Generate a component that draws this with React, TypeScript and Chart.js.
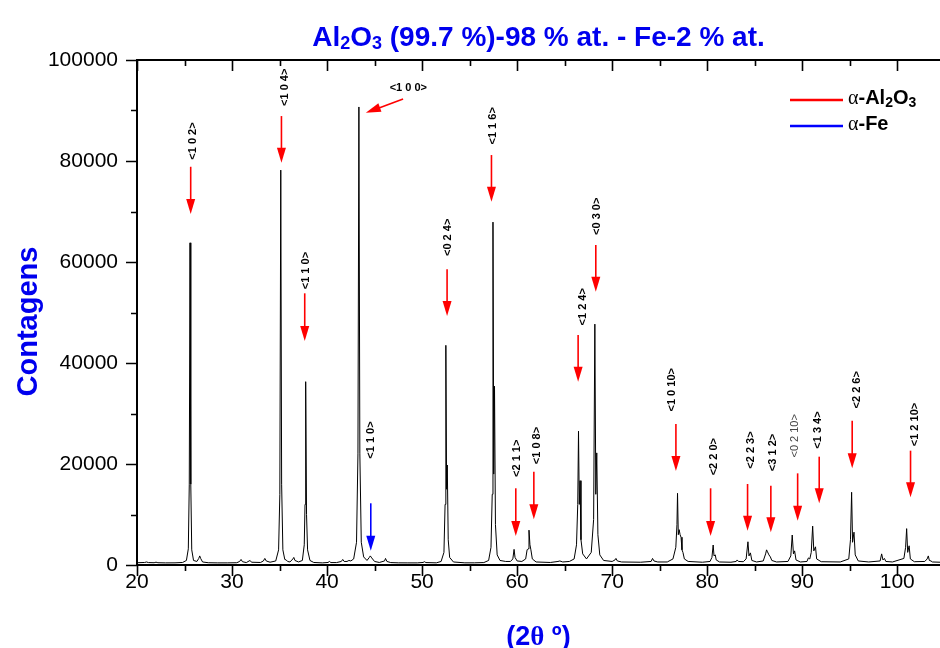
import React, { useEffect, useRef } from 'react';
import { Chart, registerables } from 'chart.js';

Chart.register(...registerables);

const SANS = '"Liberation Sans", Arial, sans-serif';
const SERIF = '"Liberation Serif", "Times New Roman", serif';

// ---- XRD scan: [2θ (deg), counts] ----
const scan20to40: [number, number][] = [
  [20.0, 450], [20.8, 500], [21.0, 600], [21.2, 480], [21.8, 450], [22.0, 560], [22.2, 450],
  [23.0, 420], [24.0, 430], [24.8, 500], [25.2, 900], [25.4, 3200], [25.5, 16000], [25.58, 63800],
  [25.66, 16000], [25.76, 3000], [25.95, 900], [26.3, 700], [26.5, 1300], [26.6, 1800], [26.7, 1300],
  [26.9, 600], [27.5, 450], [28.5, 420], [29.5, 420], [30.5, 450], [30.8, 700], [30.95, 1100],
  [31.1, 650], [31.5, 480], [31.8, 800], [31.9, 900], [32.05, 550], [33.0, 500], [33.3, 800],
  [33.45, 1300], [33.6, 800], [34.0, 550], [34.6, 800], [34.9, 3000], [35.03, 14000], [35.13, 78200],
  [35.22, 16000], [35.35, 3000], [35.55, 1100], [35.7, 1000], [35.85, 700], [36.1, 600], [36.4, 1200],
  [36.5, 1500], [36.62, 900], [37.0, 600], [37.4, 900], [37.6, 4000], [37.68, 12000], [37.75, 36300],
  [37.84, 10000], [37.95, 3000], [38.2, 900], [38.6, 500], [39.5, 420],
];
const scan40to60: [number, number][] = [
  [40.1, 500], [40.25, 700], [40.4, 480], [41.0, 480], [41.5, 700], [41.65, 1100], [41.8, 700],
  [42.1, 700], [42.3, 900], [42.5, 800], [42.8, 1200], [43.1, 4500], [43.25, 22000], [43.35, 90700],
  [43.45, 22000], [43.6, 4500], [43.85, 1600], [44.2, 900], [44.45, 1500], [44.55, 1800], [44.7, 1400],
  [45.0, 700], [45.5, 500], [46.05, 800], [46.15, 1300], [46.3, 700], [46.7, 480], [47.5, 430],
  [48.5, 420], [49.5, 420], [50.1, 500], [50.25, 650], [50.4, 480], [51.5, 430], [52.0, 700],
  [52.3, 2500], [52.42, 12000], [52.5, 43500], [52.58, 15000], [52.65, 19800], [52.75, 5000],
  [52.9, 1500], [53.3, 600], [54.5, 430], [55.5, 430], [56.5, 480], [57.0, 900], [57.25, 3500],
  [57.38, 14000], [57.46, 67900], [57.54, 18000], [57.62, 35400], [57.72, 8000], [57.9, 2000],
  [58.2, 900], [58.8, 700], [59.3, 700], [59.55, 1200], [59.68, 3100], [59.78, 1500],
];
const scan60to80: [number, number][] = [
  [60.0, 800], [60.5, 700], [60.9, 1200], [61.05, 3000], [61.15, 3200], [61.25, 6900], [61.35, 4000],
  [61.45, 3000], [61.6, 1200], [62.0, 600], [63.5, 500], [64.3, 700], [64.5, 800], [64.8, 600],
  [65.5, 700], [66.0, 1200], [66.25, 4000], [66.38, 12000], [66.46, 26500], [66.54, 12000],
  [66.62, 16700], [66.72, 5000], [66.9, 2200], [67.3, 1200], [67.8, 2500], [68.05, 9000],
  [68.18, 47700], [68.28, 14000], [68.38, 22200], [68.5, 6000], [68.7, 2000], [69.1, 900],
  [70.0, 700], [70.3, 1000], [70.4, 1300], [70.55, 800], [71.0, 600], [73.0, 550], [74.1, 700],
  [74.25, 1300], [74.4, 800], [74.8, 600], [75.8, 600], [76.4, 1200], [76.7, 3500], [76.82, 8000],
  [76.88, 14200], [76.96, 6000], [77.05, 7000], [77.15, 6000], [77.25, 5500], [77.35, 3000],
  [77.45, 2500], [77.6, 1200], [78.0, 700], [79.5, 550],
];
const scan80to105: [number, number][] = [
  [80.3, 700], [80.5, 1500], [80.63, 3960], [80.72, 1800], [80.85, 2000], [80.95, 1000], [81.3, 600],
  [82.5, 550], [83.05, 700], [83.15, 1000], [83.3, 700], [83.8, 650], [84.1, 1200], [84.29, 4600],
  [84.4, 1800], [84.55, 2400], [84.7, 900], [85.2, 600], [85.9, 800], [86.15, 2200], [86.25, 3000],
  [86.35, 2600], [86.5, 2000], [86.65, 1600], [86.8, 900], [87.3, 600], [88.5, 700], [88.8, 1800],
  [88.95, 5940], [89.08, 2200], [89.2, 2800], [89.35, 1000], [89.8, 600], [90.5, 700], [90.65, 1400],
  [90.8, 1200], [90.95, 2500], [91.1, 7700], [91.22, 2800], [91.4, 3600], [91.52, 1200], [92.0, 650],
  [94.0, 600], [94.9, 1200], [95.08, 5000], [95.2, 14400], [95.3, 4500], [95.45, 6500], [95.58, 2000],
  [95.9, 800], [97.0, 600], [98.2, 800], [98.36, 2200], [98.5, 1000], [98.65, 1300], [98.8, 700],
  [99.5, 600], [100.7, 1300], [100.88, 3500], [100.99, 7200], [101.1, 2500], [101.25, 3800],
  [101.38, 1200], [101.8, 650], [102.9, 700], [103.15, 1200], [103.27, 1800], [103.38, 900],
  [103.55, 800], [103.7, 600], [104.5, 550],
];

// ---- axes ----
const xMin = 20;
const xMax = 104.5;
const xMajorTicks = [20, 30, 40, 50, 60, 70, 80, 90, 100];
const xMinorTicks = [25, 35, 45, 55, 65, 75, 85, 95];
const yMin = 0;
const yMax = 100000;
const yMajorTicks = [0, 20000, 40000, 60000, 80000, 100000];
const yMinorTicks = [10000, 30000, 50000, 70000, 90000];

// ---- peak annotations (vertical arrows) ----
const hklLabels = ['<1 0 2>', '<1 0 4>', '<1 1 0>', '<1 1 0>', '<0 2 4>', '<1 1 6>', '<2 1 1>', '<1 0 8>', '<1 2 4>', '<0 3 0>', '<1 0 10>', '<2 2 0>', '<2 2 3>', '<3 1 2>', '<0 2 10>', '<1 3 4>', '<2 2 6>', '<1 2 10>'];
const hklPhase = ['Al', 'Al', 'Al', 'Fe', 'Al', 'Al', 'Al', 'Al', 'Al', 'Al', 'Al', 'Al', 'Al', 'Al', 'Al', 'Al', 'Al', 'Al'];
const arrowAngle = [25.65, 35.2, 37.65, 44.6, 52.63, 57.3, 59.86, 61.76, 66.42, 68.28, 76.71, 80.36, 84.25, 86.7, 89.52, 91.79, 95.26, 101.4];
const arrowStart = [78860, 88900, 53800, 12220, 58550, 81180, 15190, 18470, 45540, 63360, 27920, 15190, 16040, 15700, 18150, 21450, 28580, 22640];
const arrowEnd = [69500, 79650, 44350, 2830, 49300, 71930, 5740, 9050, 36300, 54110, 18610, 5740, 6800, 6470, 8780, 12220, 19150, 13400];
const labelAngle = [25.89, 35.55, 37.83, 44.67, 52.71, 57.47, 60.0, 62.11, 66.88, 68.36, 76.25, 80.71, 84.6, 86.95, 89.23, 91.68, 95.79, 101.86];
const labelCounts = [83950, 94600, 58300, 24750, 64880, 86960, 21130, 23660, 51140, 69060, 34700, 21450, 22770, 22280, 25580, 26730, 34700, 27820];
const thinLabels = ['<0 2 10>'];

// ---- the slanted <1 0 0> annotation ----
const slantLabel = '<1 0 0>';
const slantLabelAt = [48.55, 94400];
const slantArrowFrom = [48.0, 92270];
const slantArrowTo = [44.08, 89560];

// ---- legend / titles ----
const legendPhases = ['Al2O3', 'Fe'];
const phaseColors: Record<string, string> = { Al: '#ff0000', Fe: '#0000ff' };

type Seg = { t: string; font: string; dy?: number };

function drawRich(ctx: CanvasRenderingContext2D, segs: Seg[], x: number, y: number, align: 'left' | 'center') {
  let w = 0;
  for (const s of segs) {
    ctx.font = s.font;
    w += ctx.measureText(s.t).width;
  }
  let cx = align === 'center' ? x - w / 2 : x;
  ctx.textAlign = 'left';
  ctx.textBaseline = 'alphabetic';
  for (const s of segs) {
    ctx.font = s.font;
    ctx.fillText(s.t, cx, y + (s.dy || 0));
    cx += ctx.measureText(s.t).width;
  }
}

function drawArrow(ctx: CanvasRenderingContext2D, x1: number, y1: number, x2: number, y2: number, color: string) {
  const ang = Math.atan2(y2 - y1, x2 - x1);
  const headLen = 15;
  const half = 4.5;
  const bx = x2 - headLen * Math.cos(ang);
  const by = y2 - headLen * Math.sin(ang);
  ctx.strokeStyle = color;
  ctx.fillStyle = color;
  ctx.lineWidth = 1.6;
  ctx.beginPath();
  ctx.moveTo(x1, y1);
  ctx.lineTo(bx + Math.cos(ang), by + Math.sin(ang));
  ctx.stroke();
  ctx.beginPath();
  ctx.moveTo(x2, y2);
  ctx.lineTo(bx - half * Math.sin(ang), by + half * Math.cos(ang));
  ctx.lineTo(bx + half * Math.sin(ang), by - half * Math.cos(ang));
  ctx.closePath();
  ctx.fill();
}

const decorPlugin = {
  id: 'xrdDecor',
  afterDatasetsDraw(chart: any) {
    const { ctx, scales } = chart;
    const x = scales.x;
    const y = scales.y;
    ctx.save();
    // vertical arrows + hkl labels
    hklLabels.forEach((lab, i) => {
      const px = x.getPixelForValue(arrowAngle[i]);
      drawArrow(ctx, px, y.getPixelForValue(arrowStart[i]), px, y.getPixelForValue(arrowEnd[i]), phaseColors[hklPhase[i]]);
      const lx = x.getPixelForValue(labelAngle[i]);
      const ly = y.getPixelForValue(labelCounts[i]);
      ctx.save();
      ctx.translate(lx, ly);
      ctx.rotate(-Math.PI / 2);
      const thin = thinLabels.includes(lab);
      ctx.font = (thin ? '' : 'bold ') + '11px ' + SANS;
      ctx.fillStyle = thin ? '#444' : '#000';
      ctx.textAlign = 'center';
      ctx.textBaseline = 'middle';
      ctx.fillText(lab, 0, 0);
      ctx.restore();
    });
    // slanted <1 0 0>
    drawArrow(
      ctx,
      x.getPixelForValue(slantArrowFrom[0]), y.getPixelForValue(slantArrowFrom[1]),
      x.getPixelForValue(slantArrowTo[0]), y.getPixelForValue(slantArrowTo[1]),
      phaseColors.Al,
    );
    ctx.font = 'bold 11px ' + SANS;
    ctx.fillStyle = '#000';
    ctx.textAlign = 'center';
    ctx.textBaseline = 'middle';
    ctx.fillText(slantLabel, x.getPixelForValue(slantLabelAt[0]), y.getPixelForValue(slantLabelAt[1]));
    ctx.restore();
  },
  afterDraw(chart: any) {
    const { ctx, chartArea: a, scales } = chart;
    const x = scales.x;
    const y = scales.y;
    ctx.save();
    // axis lines
    ctx.strokeStyle = '#000';
    ctx.lineWidth = 2;
    ctx.beginPath();
    ctx.moveTo(a.left - 1, a.top);
    ctx.lineTo(a.right, a.top);
    ctx.moveTo(a.left, a.top);
    ctx.lineTo(a.left, a.bottom);
    ctx.moveTo(a.left - 1, a.bottom);
    ctx.lineTo(a.right, a.bottom);
    ctx.stroke();
    // ticks
    ctx.lineWidth = 1.6;
    ctx.beginPath();
    const xt = (v: number, len: number) => {
      const p = Math.round(x.getPixelForValue(v)) + 0.5;
      ctx.moveTo(p, a.bottom);
      ctx.lineTo(p, a.bottom + len);
      ctx.moveTo(p, a.top);
      ctx.lineTo(p, a.top + len);
    };
    xMajorTicks.forEach((v) => xt(v, 11));
    xMinorTicks.forEach((v) => xt(v, 6));
    const yt = (v: number, len: number) => {
      const p = Math.round(y.getPixelForValue(v)) + 0.5;
      ctx.moveTo(a.left, p);
      ctx.lineTo(a.left - len, p);
    };
    yMajorTicks.forEach((v) => yt(v, 11));
    yMinorTicks.forEach((v) => yt(v, 6));
    ctx.stroke();

    // title
    ctx.fillStyle = '#0000ee';
    const tb = 'bold 28px ' + SANS;
    const ts = 'bold 18px ' + SANS;
    drawRich(ctx, [
      { t: 'Al', font: tb }, { t: '2', font: ts, dy: 3 }, { t: 'O', font: tb }, { t: '3', font: ts, dy: 3 },
      { t: ' (99.7 %)-98 % at. - Fe-2 % at.', font: tb },
    ], (a.left + a.right) / 2, 46, 'center');

    // x title
    const xb = 'bold 27px ' + SANS;
    drawRich(ctx, [
      { t: '(2', font: xb }, { t: 'θ', font: 'bold 27px ' + SERIF }, { t: ' º)', font: xb },
    ], (a.left + a.right) / 2, 645, 'center');

    // y title
    ctx.save();
    ctx.translate(37, (a.top + a.bottom) / 2 + 9);
    ctx.rotate(-Math.PI / 2);
    ctx.font = 'bold 29px ' + SANS;
    ctx.textAlign = 'center';
    ctx.textBaseline = 'alphabetic';
    ctx.fillText('Contagens', 0, 0);
    ctx.restore();

    // legend
    const lx = a.right - 150;
    legendPhases.forEach((ph, i) => {
      const ly = a.top + 40 + i * 26;
      const key = ph === 'Fe' ? 'Fe' : 'Al';
      ctx.strokeStyle = phaseColors[key];
      ctx.lineWidth = 2.5;
      ctx.beginPath();
      ctx.moveTo(lx, ly);
      ctx.lineTo(lx + 53, ly);
      ctx.stroke();
      ctx.fillStyle = '#000';
      const lb = 'bold 20px ' + SANS;
      const segs: Seg[] = [{ t: 'α', font: '20px ' + SERIF }];
      if (ph === 'Al2O3') {
        segs.push({ t: '-Al', font: lb }, { t: '2', font: 'bold 14px ' + SANS, dy: 3 }, { t: 'O', font: lb }, { t: '3', font: 'bold 14px ' + SANS, dy: 3 });
      } else {
        segs.push({ t: '-' + ph, font: lb });
      }
      drawRich(ctx, segs, lx + 58, ly + 4, 'left');
    });
    ctx.restore();
  },
};

export default function App() {
  const ref = useRef<HTMLCanvasElement | null>(null);
  useEffect(() => {
    if (!ref.current) return;
    const points = [...scan20to40, ...scan40to60, ...scan60to80, ...scan80to105].map(([a, c]) => ({ x: a, y: c }));
    const chart = new Chart(ref.current, {
      type: 'line',
      data: {
        datasets: [{
          data: points,
          borderColor: '#000',
          borderWidth: 1,
          pointRadius: 0,
          tension: 0,
          fill: false,
        }],
      },
      options: {
        animation: false,
        responsive: false,
        devicePixelRatio: 1,
        layout: { padding: { left: 0, top: 60, right: 0, bottom: 0 } },
        plugins: { legend: { display: false }, tooltip: { enabled: false }, title: { display: false } },
        scales: {
          x: {
            type: 'linear',
            min: xMin,
            max: xMax,
            grid: { display: false, drawTicks: false, tickLength: 0 },
            border: { display: false },
            afterBuildTicks: (s: any) => { s.ticks = xMajorTicks.map((v) => ({ value: v })); },
            afterFit: (s: any) => { s.height = 83; },
            ticks: { autoSkip: false, maxRotation: 0, padding: 5, color: '#000', font: { family: SANS, size: 21 } },
          },
          y: {
            type: 'linear',
            min: yMin,
            max: yMax,
            grid: { display: false, drawTicks: false, tickLength: 0 },
            border: { display: false },
            afterBuildTicks: (s: any) => { s.ticks = yMajorTicks.map((v) => ({ value: v })); },
            afterFit: (s: any) => { s.width = 137; },
            ticks: { padding: 19, color: '#000', font: { family: SANS, size: 21 }, callback: (v: any) => String(v) },
          },
        },
      },
      plugins: [decorPlugin],
    });
    return () => chart.destroy();
  }, []);
  return (
    <div style={{ position: 'absolute', left: 0, top: 0, width: 940, height: 648, background: '#fff' }}>
      <canvas ref={ref} width={940} height={648} />
    </div>
  );
}
